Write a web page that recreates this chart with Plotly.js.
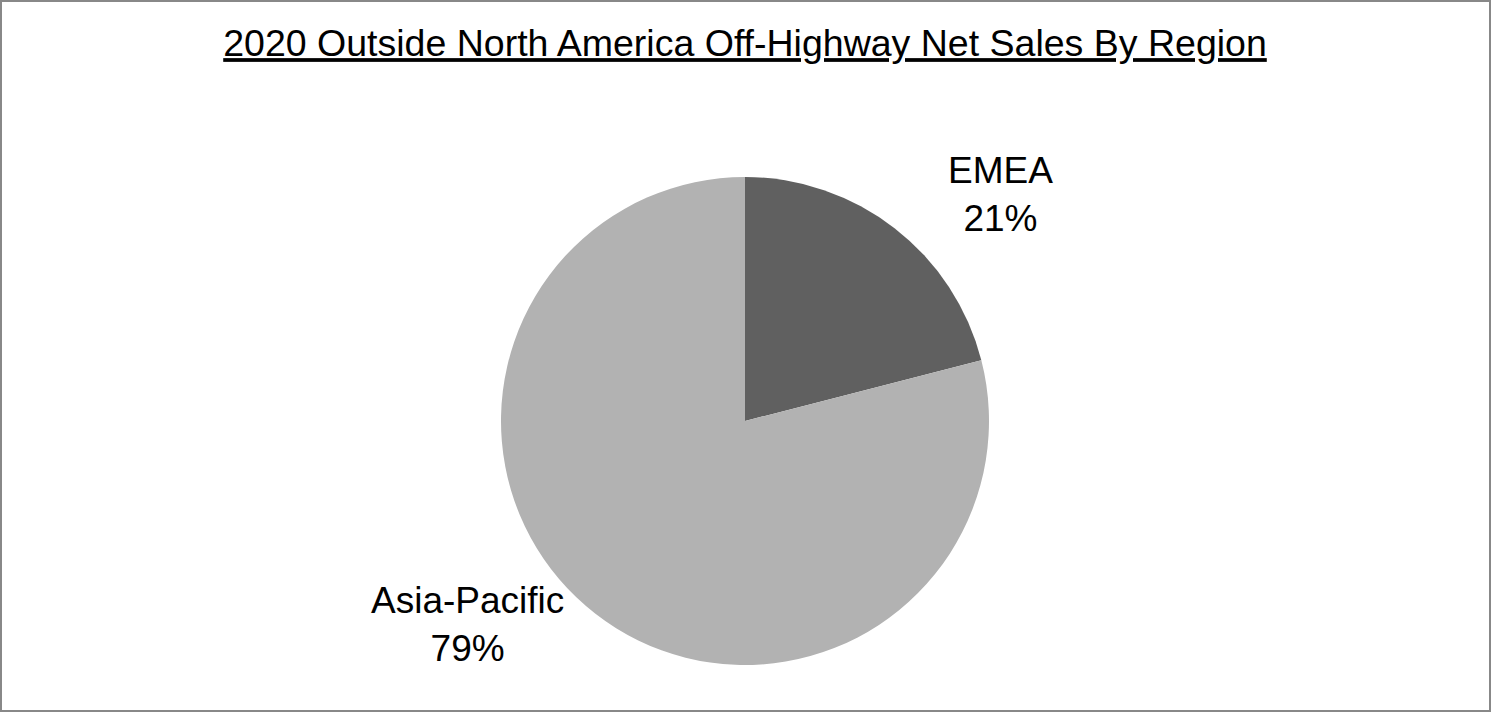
<!DOCTYPE html>
<html>
<head>
<meta charset="utf-8">
<script src="https://cdn.plot.ly/plotly-3.0.1.min.js"></script>
<style>html,body{margin:0;padding:0;background:#fff;}#chart{width:1494px;height:713px;}</style>
</head>
<body>
<div id="chart"></div>
<script>
const regions = ["EMEA", "Asia-Pacific"];
const shares = [21, 79];
const sliceColors = ["#606060", "#b2b2b2"];
const chartTitle = "2020 Outside North America Off-Highway Net Sales By Region";

const labelPos = [
  {x: 1000 / 1494, y: 1 - 194 / 713},
  {x: 467 / 1494, y: 1 - 624 / 713}
];

const annotations = regions.map((r, i) => ({
  xref: 'paper', yref: 'paper',
  x: labelPos[i].x, y: labelPos[i].y,
  xanchor: 'center', yanchor: 'middle',
  text: r + '<br>' + shares[i] + '%',
  showarrow: false, align: 'center',
  font: {family: 'Liberation Sans, Arial, sans-serif', size: 37, color: '#000'}
}));

const data = [{
  type: 'pie',
  labels: regions,
  values: shares,
  sort: false,
  direction: 'clockwise',
  rotation: 0,
  marker: {colors: sliceColors, line: {width: 0}},
  textinfo: 'none',
  hoverinfo: 'none',
  showlegend: false,
  domain: {x: [501 / 1494, 989 / 1494], y: [1 - 665 / 713, 1 - 177 / 713]}
}];

const layout = {
  width: 1494, height: 713,
  margin: {l: 0, r: 0, t: 0, b: 0},
  paper_bgcolor: '#fff',
  title: {
    text: '<u>' + chartTitle + '</u>',
    font: {family: 'Liberation Sans, Arial, sans-serif', size: 37.5, color: '#000'},
    x: 745 / 1494, xanchor: 'center',
    y: 1 - 43 / 713, yanchor: 'middle', yref: 'paper'
  },
  annotations: annotations,
  shapes: [{
    type: 'rect', xref: 'paper', yref: 'paper',
    x0: 1 / 1494, x1: 1490 / 1494, y0: 1 - 711 / 713, y1: 1 - 1 / 713,
    line: {color: '#888888', width: 2}, fillcolor: 'rgba(0,0,0,0)'
  }]
};

Plotly.newPlot('chart', data, layout, {staticPlot: true});
</script>
</body>
</html>
